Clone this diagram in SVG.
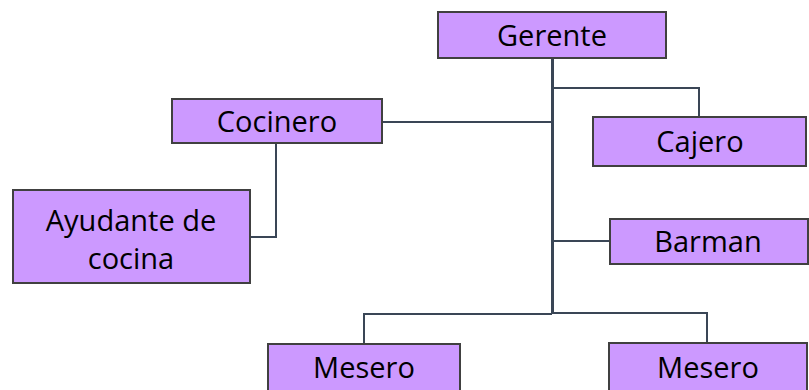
<svg xmlns="http://www.w3.org/2000/svg" width="809" height="390" viewBox="0 0 809 390">
<style>
.box{fill:#CC99FF;stroke:#404040;stroke-width:2}
.lbl{font-family:"Open Sans","Liberation Sans",sans-serif;font-size:29px;fill:#000;text-anchor:middle;dominant-baseline:central}
.con{fill:none;stroke:#3A4656;stroke-width:2}
</style>
<rect width="809" height="390" fill="#fff"/>
<g id="connectors">
<path class="con" d="M552.5 58V314" style="stroke-width:3"/>
<path class="con" d="M552 88H699V117"/>
<path class="con" d="M382 122H552"/>
<path class="con" d="M276 143V237H251"/>
<path class="con" d="M552 241H610"/>
<path class="con" d="M552 314H364V344"/>
<path class="con" d="M552 313H707V343"/>
</g>
<g id="gerente"><rect class="box" x="438" y="12" width="228" height="46"/><text class="lbl" x="552" y="34">Gerente</text></g>
<g id="cocinero"><rect class="box" x="172" y="99" width="210" height="44"/><text class="lbl" x="277" y="120">Cocinero</text></g>
<g id="ayudante"><rect class="box" x="13" y="190" width="237" height="93"/><text class="lbl" x="131" y="219">Ayudante de</text><text class="lbl" x="131" y="257">cocina</text></g>
<g id="cajero"><rect class="box" x="593" y="117" width="213" height="49"/><text class="lbl" x="700" y="140">Cajero</text></g>
<g id="barman"><rect class="box" x="610" y="219" width="198" height="45"/><text class="lbl" x="708" y="240">Barman</text></g>
<g id="mesero1"><rect class="box" x="268" y="344" width="192" height="48"/><text class="lbl" x="364" y="366">Mesero</text></g>
<g id="mesero2"><rect class="box" x="609" y="343" width="198" height="49"/><text class="lbl" x="708" y="366">Mesero</text></g>
</svg>
